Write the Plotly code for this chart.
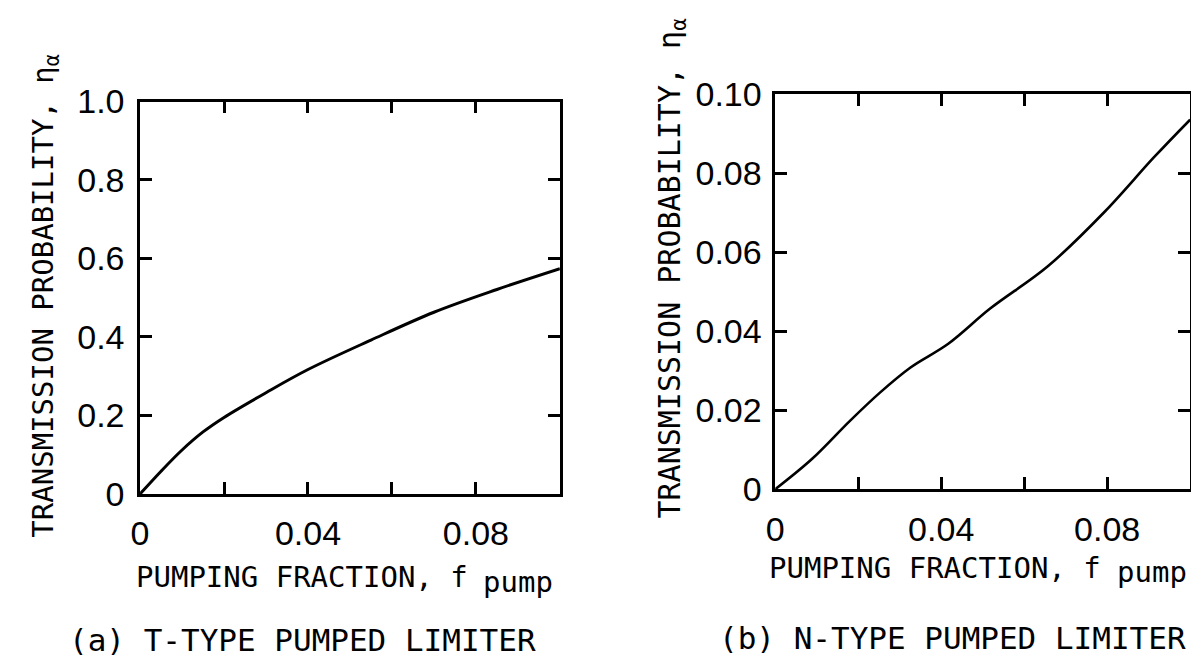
import plotly.graph_objects as go

# Data
fpump_a = [0, 0.005, 0.01, 0.015, 0.02, 0.03, 0.04, 0.055, 0.07, 0.085, 0.1]
eta_a = [0, 0.058, 0.112, 0.158, 0.195, 0.258, 0.317, 0.392, 0.463, 0.521, 0.574]

fpump_b = [0, 0.0089, 0.018, 0.0253, 0.0326, 0.0417, 0.0518, 0.0657, 0.0794, 0.0913, 0.1]
eta_b = [0, 0.0077, 0.0173, 0.0245, 0.0308, 0.0368, 0.0457, 0.0564, 0.0702, 0.0840, 0.0935]

x_tickvals = [0, 0.02, 0.04, 0.06, 0.08, 0.1]
x_ticktext = ["0", "", "0.04", "", "0.08", ""]
ya_tickvals = [0, 0.2, 0.4, 0.6, 0.8, 1.0]
ya_ticktext = ["0", "0.2", "0.4", "0.6", "0.8", "1.0"]
yb_tickvals = [0, 0.02, 0.04, 0.06, 0.08, 0.10]
yb_ticktext = ["0", "0.02", "0.04", "0.06", "0.08", "0.10"]

xtitle_main = "PUMPING FRACTION, f"
xtitle_sub = "pump"
ytitle = "TRANSMISSION PROBABILITY, η<sub>α</sub>"
cap_a = "(a) T-TYPE PUMPED LIMITER"
cap_b = "(b) N-TYPE PUMPED LIMITER"

W, H = 1199, 670
TICKFONT = "Liberation Sans"
TITLEFONT = "DejaVu Sans Mono"

fig = go.Figure()
fig.add_trace(go.Scatter(x=fpump_a, y=eta_a, mode="lines", line=dict(color="black", width=3, shape="spline"),
                         xaxis="x", yaxis="y", showlegend=False, hoverinfo="skip"))
fig.add_trace(go.Scatter(x=fpump_b, y=eta_b, mode="lines", line=dict(color="black", width=2.6, shape="spline"),
                         xaxis="x2", yaxis="y2", showlegend=False, hoverinfo="skip"))

axis_common = dict(showline=True, linecolor="black", linewidth=2.5, mirror="ticks", ticks="inside",
                   ticklen=12, tickwidth=2.5, tickcolor="black", showgrid=False, zeroline=False,
                   tickfont=dict(family=TICKFONT, size=34, color="black"))

def px_x(p):
    return p / W

def px_y(p):
    return 1 - p / H

fig.update_layout(
    width=W, height=H,
    margin=dict(l=0, r=0, t=0, b=0),
    paper_bgcolor="white", plot_bgcolor="white",
    xaxis=dict(domain=[px_x(124), px_x(547)], range=[0, 0.1], tickmode="array", tickvals=x_tickvals,
               ticktext=x_ticktext, anchor="y", ticklabelstandoff=8, **axis_common),
    yaxis=dict(domain=[px_y(495), px_y(79)], range=[0, 1.0], tickmode="array", tickvals=ya_tickvals,
               ticktext=ya_ticktext, anchor="x", ticklabelstandoff=6, **axis_common),
    xaxis2=dict(domain=[px_x(764), px_x(1182)], range=[0, 0.1], tickmode="array", tickvals=x_tickvals,
                ticktext=x_ticktext, anchor="y2", ticklabelstandoff=8, **axis_common),
    yaxis2=dict(domain=[px_y(490), px_y(71)], range=[0, 0.10], tickmode="array", tickvals=yb_tickvals,
                ticktext=yb_ticktext, anchor="x2", ticklabelstandoff=4, **axis_common),
)

tfont = dict(family=TITLEFONT, size=29, color="black")
tfont_b = dict(family=TITLEFONT, size=30, color="black")
cfont = dict(family=TITLEFONT, size=31, color="black")

def ann(text, x, y, font, xanchor="left", yanchor="middle", angle=0):
    return dict(text=text, x=px_x(x), y=px_y(y), xref="paper", yref="paper", showarrow=False, font=font,
                xanchor=xanchor, yanchor=yanchor, textangle=angle)

annotations = [
    ann(xtitle_main, 118, 583, tfont),
    ann(xtitle_sub, 468, 588, tfont),
    ann(xtitle_main, 756, 573, tfont),
    ann(xtitle_sub, 1106, 578, tfont),
    ann(cap_a, 50, 650, cfont),
    ann(cap_b, 705, 648, cfont),
    ann(ytitle, 28, 285, tfont, xanchor="center", angle=-90),
    ann(ytitle, 659, 256, tfont_b, xanchor="center", angle=-90),
]
fig.update_layout(annotations=annotations)

fig.write_html("out.html")
